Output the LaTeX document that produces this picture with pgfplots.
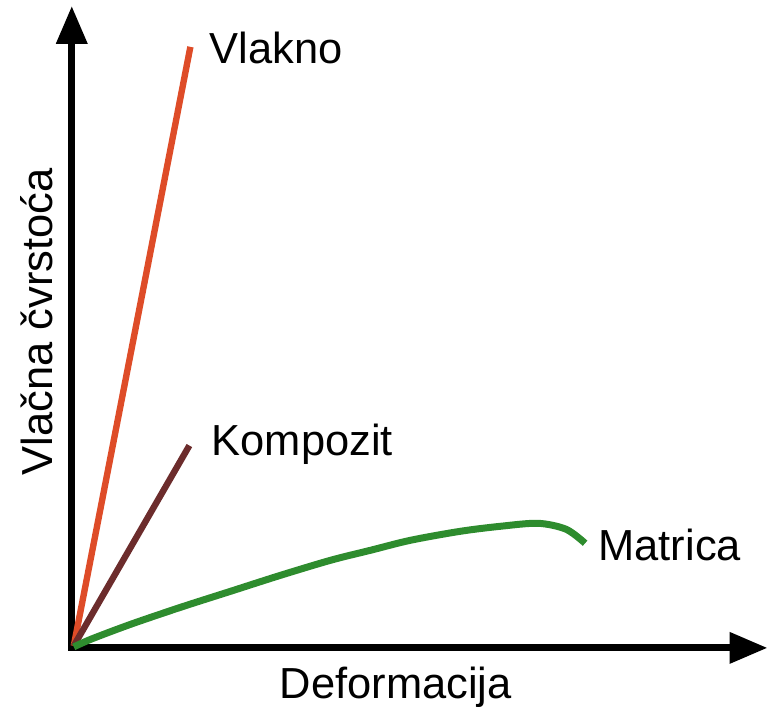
\documentclass[border=0pt]{standalone}
\usepackage{fontspec}
\setmainfont{Liberation Sans}
\usepackage{pgfplots}
\pgfplotsset{compat=1.18}
\usetikzlibrary{arrows.meta}

\definecolor{vlakno}{RGB}{222,76,40}
\definecolor{kompozit}{RGB}{108,44,44}
\definecolor{matrica}{RGB}{46,140,46}

\begin{document}
\begin{tikzpicture}[font=\fontsize{21.8}{26}\selectfont]
\begin{axis}[
    x=0.5pt, y=0.5pt,
    xmin=0, xmax=698,
    ymin=0, ymax=644,
    axis lines=left,
    axis line style={line width=3.5pt, line cap=rect, -{Triangle[length=19pt,width=15pt]}},
    xtick=\empty, ytick=\empty,
    clip=false,
]
% bounding box of the whole picture
\path (axis cs:-72,-56) rectangle (axis cs:699,650);

% fibre
\addplot[vlakno, line width=3.2pt] coordinates {(2,2) (119,603)};
% composite
\addplot[kompozit, line width=3.2pt] coordinates {(2,2) (118,203)};
% matrix
\addplot[matrica, line width=3.5pt, smooth] coordinates {
    (2,1) (20,9) (60,24) (110,41) (160,57) (210,73) (260,88) (300,98)
    (340,108) (390,117) (430,122) (468,125) (496,119) (515,105)
};

\node[anchor=base west, inner sep=0pt] at (axis cs:138,586) {Vlakno};
\node[anchor=base west, inner sep=0pt] at (axis cs:140,193) {Kompozit};
\node[anchor=base west, inner sep=0pt] at (axis cs:528,88) {Matrica};
\node[anchor=base, inner sep=0pt] at (axis cs:325,-51) {Deformacija};
\node[anchor=base, inner sep=0pt, rotate=90] at (axis cs:-19,327) {Vlačna čvrstoća};
\end{axis}
\end{tikzpicture}
\end{document}
